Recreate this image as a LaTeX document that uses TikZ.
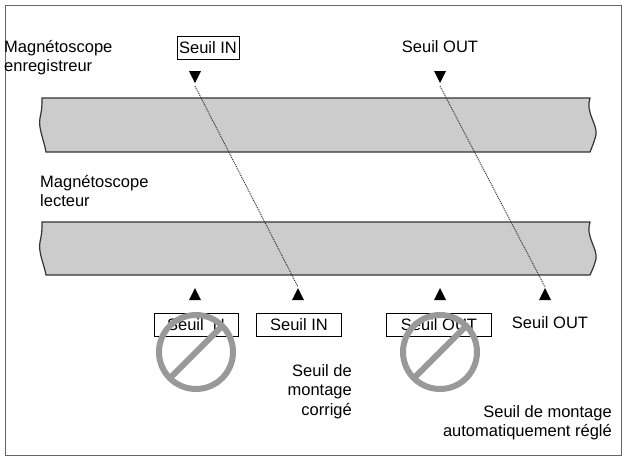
\documentclass[tikz,border=0pt]{standalone}
\usepackage{fontspec}
\setmainfont{Liberation Sans}
\tikzset{
  tape/.style={fill=black!20,draw=black!80,line width=1.2pt},
  seuilbox/.style={draw,line width=.7pt,inner sep=2pt,minimum height=23pt},
  interdit/.style={draw=black!40,line width=6pt},
  lbl/.style={align=left,inner sep=0pt},
}
\newcommand{\tri}[3]{% x, y, direction (1 down, -1 up)
  \fill (#1-6,#2-6*#3) -- (#1+6,#2-6*#3) -- (#1,#2+6*#3) -- cycle;}
\begin{document}
\begin{tikzpicture}[x=1pt,y=-1pt,font=\fontsize{16.5}{19.5}\selectfont]
\useasboundingbox (0,0) rectangle (626,459);
\draw[black!60,line width=1pt] (5,5) rectangle (621,455);
% bandes
\draw[tape] (42,98) -- (590,98) .. controls (585,112) and (598,125) .. (596,135)
  .. controls (594,142) .. (590,152) -- (46,152) .. controls (44,140) and (38,128) .. (40,118)
  .. controls (42,108) .. cycle;
\draw[tape] (42,222) -- (590,222) .. controls (585,236) and (598,249) .. (596,259)
  .. controls (594,266) .. (590,275) -- (46,275) .. controls (44,264) and (38,252) .. (40,242)
  .. controls (42,232) .. cycle;
% textes
\node[lbl,anchor=north west] (enr) at (4,40) {Magnétoscope\\enregistreur};
\node[lbl,anchor=north west] (lec) at (40,175) {Magnétoscope\\lecteur};
\node[seuilbox] (in1) at (208,48) {Seuil IN};
\node (out1) at (440,47) {Seuil OUT};
% marques
\tri{195}{77}{1} \tri{440}{77}{1}
\tri{195}{294}{-1} \tri{298}{294}{-1} \tri{440}{294}{-1} \tri{545}{294}{-1}
\coordinate (a1) at (195,86); \coordinate (a2) at (298,287);
\coordinate (b1) at (440,86); \coordinate (b2) at (545,287);
\draw[densely dotted,line width=1pt,black!80] (a1) -- (a2) (b1) -- (b2);
% seuils lecteur
\node[seuilbox,minimum width=84pt] (inx) at (196,325) {Seuil\phantom{I} N};
\node[seuilbox,minimum width=85pt] (in2) at (299,325) {Seuil IN};
\node[seuilbox,minimum width=105pt] (outx) at (439,325) {Seuil OUT};
\node (out2) at (550,323) {Seuil OUT};
\foreach \cx in {196,440}{
  \draw[interdit] (\cx,352) circle (37);
  \draw[interdit] (\cx-26,378) -- (\cx+26,326);
}
\node[align=right,anchor=north east,inner sep=0pt] (corr) at (352,364) {Seuil de\\montage\\corrigé};
\node[align=right,anchor=north east,inner sep=0pt] (auto) at (612,405) {Seuil de montage\\automatiquement réglé};
\end{tikzpicture}
\end{document}
